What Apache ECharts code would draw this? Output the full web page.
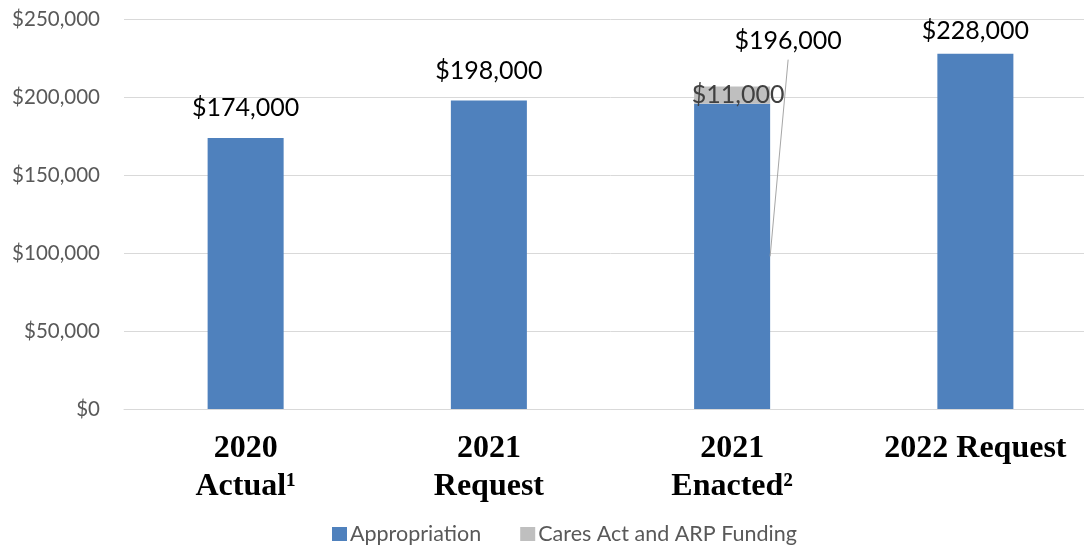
<!DOCTYPE html>
<html>
<head>
<meta charset="utf-8">
<script src="https://cdn.jsdelivr.net/npm/echarts@6/dist/echarts.min.js"></script>
<style>
  html, body { margin: 0; padding: 0; background: #fff; overflow: hidden; }
  /* plot area runs slightly past the right edge of the page */
  #chart { width: 1097px; height: 546px; }
</style>
</head>
<body>
<div id="chart"></div>
<script>
// Funding by fiscal year (dollars)
const categories = ['2020\nActual\u00b9', '2021\nRequest', '2021\nEnacted\u00b2', '2022 Request'];
const appropriation = [174000, 198000, 196000, 228000];
const caresArp = ['-', '-', 11000, '-'];
const seriesNames = ['Appropriation', 'Cares Act and ARP Funding'];
const yTicks = { min: 0, max: 250000, interval: 50000 };

// Index of the bar whose appropriation label sits off to the side with a leader line
const calloutIndex = 2;

const BAR_RATIO = 0.3125;
const LABEL_FONT = 'Lato, "Open Sans", sans-serif';

const money = v => '$' + Number(v).toLocaleString('en-US');

const chart = echarts.init(document.getElementById('chart'), null, { renderer: 'canvas' });

chart.setOption({
  animation: false,
  backgroundColor: '#ffffff',
  grid: { left: 124, top: 19.5, right: 0, bottom: 137, containLabel: false },
  legend: {
    data: seriesNames,
    left: 327,
    top: 518,
    icon: 'rect',
    itemWidth: 15,
    itemHeight: 14,
    itemGap: 39,
    textStyle: { color: '#595959', fontSize: 21.5, fontFamily: LABEL_FONT, padding: [0, 0, 0, -2] }
  },
  xAxis: {
    type: 'category',
    data: categories,
    axisTick: { show: false },
    axisLine: { lineStyle: { color: '#d9d9d9', width: 1 } },
    axisLabel: {
      interval: 0,
      margin: 21,
      color: '#000',
      fontFamily: '"Liberation Serif", "Times New Roman", serif',
      fontWeight: 'bold',
      fontSize: 32,
      lineHeight: 38,
      verticalAlign: 'top'
    }
  },
  yAxis: {
    type: 'value',
    min: yTicks.min,
    max: yTicks.max,
    interval: yTicks.interval,
    axisLine: { show: false },
    axisTick: { show: false },
    splitLine: { lineStyle: { color: '#d9d9d9', width: 1 } },
    axisLabel: {
      margin: 24,
      color: '#595959',
      fontFamily: LABEL_FONT,
      fontSize: 20.5,
      formatter: v => money(v)
    }
  },
  series: [
    {
      name: seriesNames[0],
      type: 'bar',
      stack: 'total',
      barWidth: (BAR_RATIO * 100) + '%',
      itemStyle: { color: '#4f81bd' },
      data: appropriation.map((v, i) => ({
        value: v,
        label: {
          show: i !== calloutIndex,
          position: 'top',
          distance: i === appropriation.length - 1 ? 10 : 17,
          color: '#000',
          fontFamily: LABEL_FONT,
          fontSize: 25,
          formatter: p => money(p.value)
        }
      }))
    },
    {
      name: seriesNames[1],
      type: 'bar',
      stack: 'total',
      barWidth: (BAR_RATIO * 100) + '%',
      itemStyle: { color: '#bfbfbf' },
      label: {
        show: true,
        position: 'inside',
        offset: [6, 0],
        color: '#404040',
        fontFamily: LABEL_FONT,
        fontSize: 25,
        formatter: p => money(p.value)
      },
      data: caresArp
    },
    {
      // Side label with leader line for the enacted appropriation
      name: 'callout',
      type: 'custom',
      z: 5,
      silent: true,
      data: [[calloutIndex, appropriation[calloutIndex]]],
      renderItem: (params, api) => {
        const idx = api.value(0);
        const v = api.value(1);
        const top = api.coord([idx, v]);
        const mid = api.coord([idx, v / 2]);
        const half = api.size([1, 0])[0] * BAR_RATIO / 2;
        const rx = top[0] + half;
        return {
          type: 'group',
          children: [
            {
              type: 'line',
              shape: { x1: rx, y1: mid[1], x2: rx + 18, y2: top[1] - 44 },
              style: { stroke: '#a6a6a6', lineWidth: 1 }
            },
            {
              type: 'text',
              style: {
                text: money(v),
                x: rx + 18,
                y: top[1] - 63,
                align: 'center',
                verticalAlign: 'middle',
                fontFamily: LABEL_FONT,
                fontSize: 25,
                fill: '#000'
              }
            }
          ]
        };
      }
    }
  ]
});
</script>
</body>
</html>
